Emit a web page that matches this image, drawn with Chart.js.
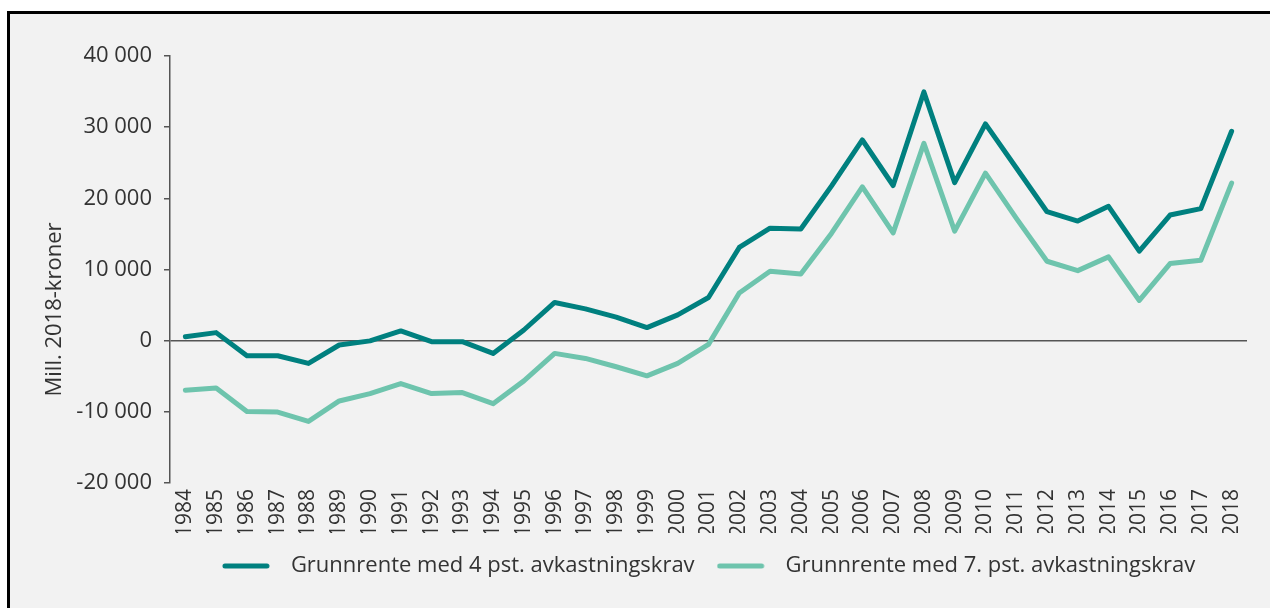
<!DOCTYPE html>
<html>
<head>
<meta charset="utf-8">
<script src="https://cdn.jsdelivr.net/npm/chart.js@4/dist/chart.umd.min.js"></script>
<style>
  body { margin: 0; background: #fff; }
  #frame {
    position: absolute; left: 7px; top: 11px;
    width: 1263px; height: 597px;
    border-left: 3px solid #000; border-top: 3px solid #000;
    background: #f2f2f2;
  }
  #chart { display: block; }
</style>
</head>
<body>
<div id="frame"><canvas id="chart" width="1260" height="594"></canvas></div>
<script>
let years = [];
for (let y = 1984; y <= 2018; y++) years.push(String(y));

// grunnrente, mill. 2018-kroner
let rente4 = [560, 1130, -2120, -2120, -3200, -610, -30, 1370, -140, -140, -1790, 1500,
  5370, 4470, 3300, 1840, 3630, 6070, 13100, 15800, 15700, 21750, 28200, 21800,
  34950, 22200, 30460, 24300, 18120, 16800, 18880, 12570, 17650, 18550, 29420];
let rente7 = [-6970, -6640, -9940, -10030, -11350, -8470, -7440, -6030, -7440, -7300, -8850, -5650,
  -1790, -2500, -3670, -4940, -3200, -520, 6690, 9750, 9370, 15100, 21600, 15150,
  27730, 15400, 23540, 17230, 11160, 9840, 11770, 5650, 10830, 11300, 22130];

let yMin = -20000;
let yMax = 40000;
let yStep = 10000;
let yTitle = "Mill. 2018-kroner";

const font = "'Open Sans', 'Noto Sans', sans-serif";
const textColor = "#333";
const axisColor = "#555";
const dark = "#00807f";
const light = "#6ec4ad";

function fmt(v) {
  return String(v).replace(/\B(?=(\d{3})+(?!\d))/g, " ");
}

// legend sample: a thick rounded line with some space after it
function legendLine(color) {
  let c = document.createElement("canvas");
  c.width = 58;
  c.height = 8;
  let g = c.getContext("2d");
  g.strokeStyle = color;
  g.lineWidth = 5;
  g.lineCap = "round";
  g.beginPath();
  g.moveTo(3, 4);
  g.lineTo(45, 4);
  g.stroke();
  return c;
}

// y-axis title, drawn a bit below the middle like the original
const yTitlePlugin = {
  id: "yTitle",
  afterDraw(chart) {
    let ctx = chart.ctx;
    let area = chart.chartArea;
    ctx.save();
    ctx.translate(45, (area.top + area.bottom) / 2 + 40);
    ctx.rotate(-Math.PI / 2);
    ctx.font = "22px " + font;
    ctx.fillStyle = textColor;
    ctx.textAlign = "center";
    ctx.textBaseline = "middle";
    ctx.fillText(yTitle, 0, 0);
    ctx.restore();
  }
};

const ctx = document.getElementById("chart").getContext("2d");
let myChart = new Chart(ctx, {
  type: "line",
  data: {
    labels: years,
    datasets: [{
      label: "Grunnrente med 4 pst. avkastningskrav",
      data: rente4,
      borderColor: dark,
      backgroundColor: dark,
      borderWidth: 5,
      borderCapStyle: "round",
      borderJoinStyle: "round",
      pointRadius: 0,
      pointStyle: legendLine(dark),
      tension: 0
    }, {
      label: "Grunnrente med 7. pst. avkastningskrav",
      data: rente7,
      borderColor: light,
      backgroundColor: light,
      borderWidth: 5,
      borderCapStyle: "round",
      borderJoinStyle: "round",
      pointRadius: 0,
      pointStyle: legendLine(light),
      tension: 0
    }]
  },
  options: {
    responsive: false,
    animation: false,
    layout: { padding: { top: 42, right: 23, bottom: 21, left: 0 } },
    plugins: {
      legend: {
        position: "bottom",
        fullSize: false,
        labels: {
          usePointStyle: true,
          pointStyleWidth: 58,
          padding: 22,
          color: textColor,
          font: { family: font, size: 22 }
        }
      },
      tooltip: { enabled: false }
    },
    scales: {
      x: {
        offset: true,
        grid: { display: false, drawTicks: false },
        border: { display: false },
        ticks: {
          autoSkip: false,
          maxRotation: 90,
          minRotation: 90,
          padding: 6,
          color: textColor,
          font: { family: font, size: 21 }
        },
        afterFit(scale) { scale.height = 50; }
      },
      y: {
        min: yMin,
        max: yMax,
        ticks: {
          stepSize: yStep,
          padding: 12,
          color: textColor,
          font: { family: font, size: 22 },
          callback: v => fmt(v)
        },
        grid: {
          color: c => (c.tick && c.tick.value === 0) ? axisColor : "transparent",
          lineWidth: 1.5,
          tickColor: axisColor,
          tickLength: 6,
          tickWidth: 1.5
        },
        border: { display: true, color: axisColor, width: 1.5 },
        afterFit(scale) { scale.width = 160; }
      }
    }
  },
  plugins: [yTitlePlugin]
});
</script>
</body>
</html>
